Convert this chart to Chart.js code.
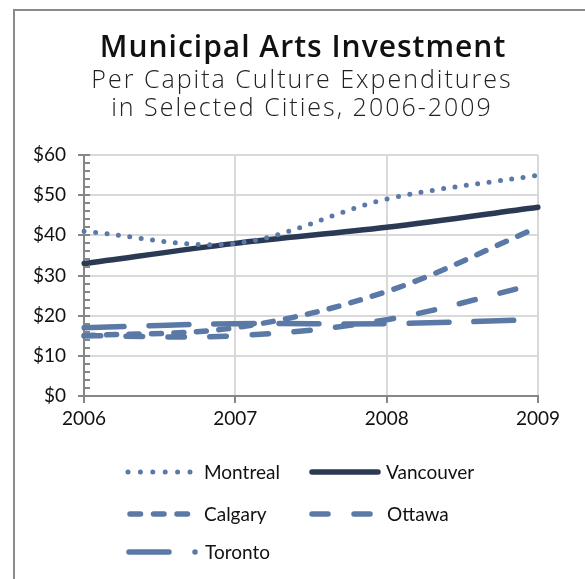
<!DOCTYPE html>
<html>
<head>
<meta charset="utf-8">
<script src="https://cdn.jsdelivr.net/npm/chart.js@4.4.1/dist/chart.umd.min.js"></script>
<style>
  html, body { margin: 0; padding: 0; background: #ffffff; }
  #wrap { position: relative; width: 585px; height: 579px; }
</style>
</head>
<body>
<div id="wrap"><canvas id="chart" width="585" height="579"></canvas></div>
<script>
// Per capita culture spending by city, 2006-2009 (dollars)
const years = ['2006', '2007', '2008', '2009'];
const montreal  = [41, 38, 49, 55];
const vancouver = [33, 38, 42, 47];
const calgary   = [15, 17, 26, 42];
const ottawa    = [15, 15, 19, 28];
const toronto   = [17, 18, 18, 19];
const yTicks = [0, 10, 20, 30, 40, 50, 60];

const BLUE = '#5b79a6';
const NAVY = '#2b3a54';
const FONT = 'Lato, "Open Sans", sans-serif';

// line style per city: dash pattern in the plot and in the legend swatch
const series = [
  { label: 'Montreal',  data: montreal,  color: BLUE, dash: [0, 11.5],  key: [0, 12.4],         width: 5 },
  { label: 'Vancouver', data: vancouver, color: NAVY, dash: [],         key: [],                 width: 5.5 },
  { label: 'Calgary',   data: calgary,   color: BLUE, dash: [10, 12.5], key: [10.5, 13],         width: 5.5 },
  { label: 'Ottawa',    data: ottawa,    color: BLUE, dash: [16.5, 25.5], key: [16, 26],         width: 5.5 },
  { label: 'Toronto',   data: toronto,   color: BLUE, dash: [40, 25],   key: [40, 26, 0, 30],    width: 5.5 }
];

// Frame, titles, axis tick marks and the two-column legend
const decorations = {
  id: 'decorations',
  beforeDraw(chart) {
    const ctx = chart.ctx;
    ctx.save();
    ctx.strokeStyle = '#8a8a8a';
    ctx.lineWidth = 2;
    ctx.beginPath();
    ctx.moveTo(14, 600);
    ctx.lineTo(14, 10);
    ctx.lineTo(600, 10);
    ctx.stroke();
    ctx.restore();
  },
  afterDraw(chart) {
    const ctx = chart.ctx;
    const xs = chart.scales.x, ys = chart.scales.y;
    ctx.save();

    // titles
    ctx.fillStyle = '#111111';
    ctx.textAlign = 'center';
    ctx.textBaseline = 'alphabetic';
    ctx.font = '600 30px "Open Sans", sans-serif';
    ctx.letterSpacing = '1px';
    ctx.fillText('Municipal Arts Investment', 303, 57);
    ctx.fillStyle = '#222222';
    ctx.font = '300 25px "Open Sans", sans-serif';
    ctx.letterSpacing = '2px';
    ctx.fillText('Per Capita Culture Expenditures', 302, 88);
    ctx.fillText('in Selected Cities, 2006-2009', 302, 116);
    ctx.letterSpacing = '0px';

    // axis tick marks
    ctx.strokeStyle = '#868686';
    ctx.lineWidth = 2;
    const x0 = xs.left;
    ctx.beginPath();
    for (let v = ys.min; v <= ys.max; v += 2) {
      const y = Math.round(ys.getPixelForValue(v));
      if (v % 10 === 0) { ctx.moveTo(x0 - 6, y); ctx.lineTo(x0 + 6, y); }
      else { ctx.moveTo(x0, y); ctx.lineTo(x0 + 6, y); }
    }
    const yb = ys.bottom;
    years.forEach((_, i) => {
      const x = Math.round(xs.getPixelForValue(i));
      ctx.moveTo(x, yb); ctx.lineTo(x, yb + 7);
    });
    ctx.stroke();

    // legend
    const slots = [
      { x: 128, y: 472, len: 62, tx: 204 },
      { x: 312, y: 472, len: 66, tx: 386 },
      { x: 130, y: 514, len: 58, tx: 204 },
      { x: 312, y: 514, len: 59, tx: 387 },
      { x: 129, y: 552, len: 67, tx: 205 }
    ];
    chart.data.datasets.forEach((ds, i) => {
      const s = slots[i];
      ctx.save();
      ctx.strokeStyle = ds.borderColor;
      ctx.lineWidth = ds.borderWidth;
      ctx.lineCap = 'round';
      ctx.setLineDash(series[i].key);
      ctx.beginPath();
      ctx.moveTo(s.x, s.y);
      ctx.lineTo(s.x + s.len, s.y);
      ctx.stroke();
      ctx.restore();
      ctx.fillStyle = '#111111';
      ctx.font = '19px ' + FONT;
      ctx.textAlign = 'left';
      ctx.textBaseline = 'middle';
      ctx.fillText(ds.label, s.tx, s.y + 1);
    });
    ctx.restore();
  }
};

new Chart(document.getElementById('chart'), {
  type: 'line',
  data: {
    labels: years,
    datasets: series.map(s => ({
      label: s.label,
      data: s.data,
      borderColor: s.color,
      backgroundColor: s.color,
      borderWidth: s.width,
      borderDash: s.dash,
      borderCapStyle: 'round',
      borderJoinStyle: 'round',
      pointRadius: 0,
      tension: 0.35,
      fill: false
    }))
  },
  options: {
    responsive: false,
    animation: false,
    events: [],
    layout: { padding: { left: 0, right: 47, top: 155, bottom: 143 } },
    plugins: { legend: { display: false }, title: { display: false }, tooltip: { enabled: false } },
    scales: {
      x: {
        offset: false,
        grid: { color: '#d9d9d9', lineWidth: 2, drawTicks: false },
        border: { color: '#868686', width: 2 },
        ticks: { color: '#111111', font: { family: FONT, size: 19 }, padding: 11 },
        afterFit(scale) { scale.height = 40; }
      },
      y: {
        min: 0, max: 60,
        afterBuildTicks(scale) { scale.ticks = yTicks.map(v => ({ value: v })); },
        grid: { color: '#d9d9d9', lineWidth: 2, drawTicks: false },
        border: { color: '#868686', width: 2 },
        ticks: { color: '#111111', font: { family: FONT, size: 19 }, padding: 18,
                 callback: v => '$' + v },
        afterFit(scale) { scale.width = 84; }
      }
    }
  },
  plugins: [decorations]
});
</script>
</body>
</html>
